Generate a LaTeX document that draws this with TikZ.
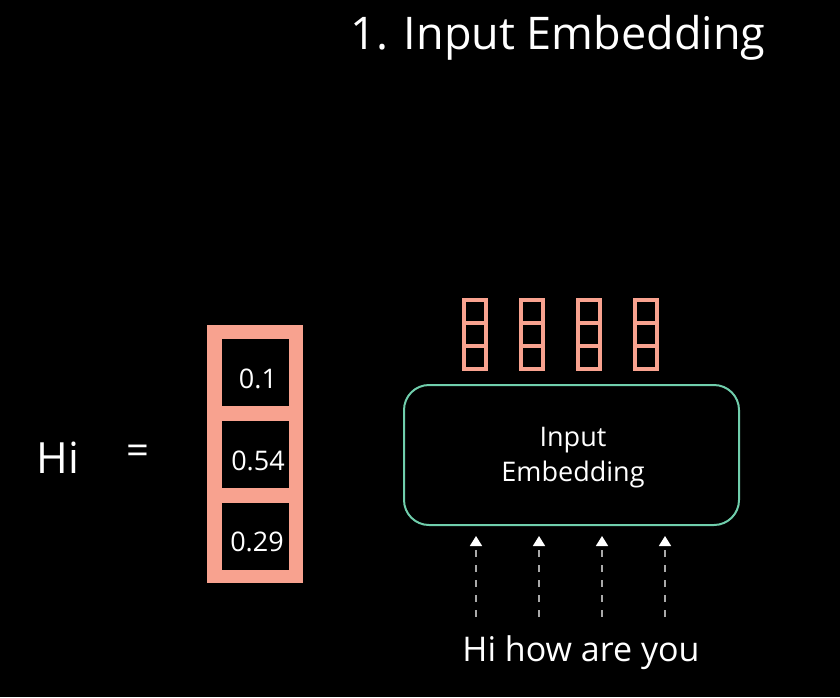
\documentclass[tikz,border=0pt]{standalone}
\usepackage{fontspec}
\setmainfont{Open Sans}
\usetikzlibrary{arrows.meta}
\definecolor{salmon}{RGB}{248,162,143}
\definecolor{mint}{RGB}{112,206,172}
\definecolor{dashgray}{RGB}{170,170,170}
\begin{document}
\begin{tikzpicture}[x=1pt,y=-1pt,
  txt/.style={text=white,inner sep=0pt,anchor=center},
  cellbox/.style={fill=black,minimum width=67pt,minimum height=67pt,inner sep=0pt},
  celltxt/.style={txt,font=\fontsize{27}{32}\selectfont},
  mini/.style={draw=salmon,line width=4pt,minimum width=22pt,minimum height=23pt,inner sep=0pt},
  embbox/.style={draw=mint,line width=2pt,rounded corners=25pt,minimum width=335pt,minimum height=140pt},
  uparrow/.style={draw=dashgray,line width=1.6pt,dash pattern=on 7pt off 8pt,-{Triangle[length=10pt,width=12pt,color=white]}}
]
\useasboundingbox[fill=black] (0,0) rectangle (840,697);
\node[txt,font=\fontsize{45}{54}\selectfont] (title) at (558,38) {1. Input Embedding};
\node[txt,font=\fontsize{43}{50}\selectfont] (hi) at (58,458) {Hi};
\node[txt,font=\fontsize{40}{46}\selectfont] (eq) at (138,455) {=};
\fill[salmon] (207,325) rectangle (303,583);
\node[cellbox] (c1) at (255.5,372.5) {};
\node[cellbox] (c2) at (255.5,454.5) {};
\node[cellbox] (c3) at (255.5,536) {};
\node[celltxt] (t1) at (258,379) {0.1};
\node[celltxt] (t2) at (258,461) {0.54};
\node[celltxt] (t3) at (257,542) {0.29};
\foreach \i/\x in {1/475,2/531.5,3/589,4/646}{
  \node[mini] (m\i a) at (\x,311.5) {};
  \node[mini] (m\i b) at (\x,334.5) {};
  \node[mini] (m\i c) at (\x,357.5) {};
}
\node[embbox] (emb) at (571.5,455) {};
\node[txt,font=\fontsize{27}{35}\selectfont,align=center] (embtxt) at (573,458) {Input\\Embedding};
\node[txt,font=\fontsize{34}{40}\selectfont] (words) at (581,653) {Hi how are you};
\foreach \i/\x in {1/476,2/539,3/602,4/665}{
  \coordinate (s\i) at (\x,617);
  \coordinate (e\i) at (\x,536);
  \draw[uparrow] (s\i) -- (e\i);
}
\end{tikzpicture}
\end{document}
